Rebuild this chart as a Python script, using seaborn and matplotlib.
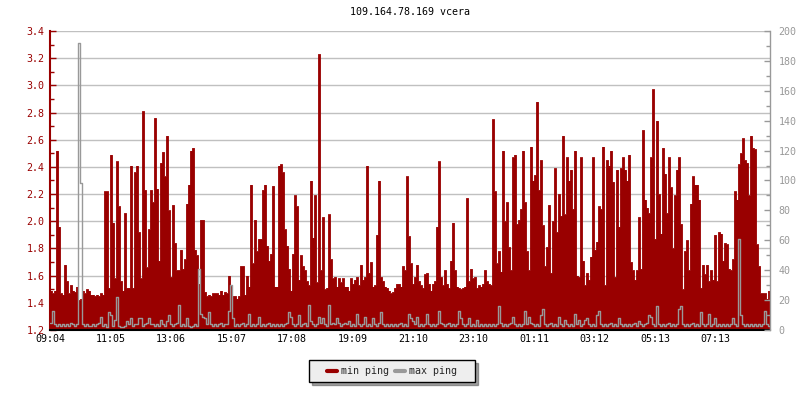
import numpy as np
import pandas as pd
import matplotlib
matplotlib.use("Agg")
import matplotlib.pyplot as plt
import seaborn as sns
from matplotlib.lines import Line2D
from matplotlib.path import Path
from matplotlib.ticker import MultipleLocator

# ping samples, one value per 4 minutes, 09:04 -> 09:04 next day
min_ping = [
    # 09:04 - 13:04
    1.49, 1.47, 1.49, 2.52, 1.96, 1.47, 1.46, 1.68, 1.56, 1.47, 1.53, 1.49, 1.48, 1.52, 1.42,
    1.43, 1.49, 1.47, 1.50, 1.49, 1.46, 1.46, 1.45, 1.46, 1.45, 1.47, 1.46, 2.22, 2.22, 1.51,
    2.49, 1.99, 1.58, 2.44, 2.11, 1.56, 1.49, 2.06, 1.51, 1.51, 2.41, 1.51, 2.36, 2.41, 1.92,
    1.58, 2.81, 2.23, 1.66, 1.94, 2.23, 2.14, 2.76, 2.24, 1.71, 2.43, 2.51, 2.33, 2.63, 2.08,
    # 13:04 - 17:04
    1.59, 2.12, 1.84, 1.64, 1.64, 1.79, 1.65, 1.72, 2.13, 2.27, 2.52, 2.54, 1.79, 1.75, 1.54,
    2.01, 2.01, 1.48, 1.45, 1.46, 1.45, 1.47, 1.47, 1.47, 1.46, 1.49, 1.46, 1.48, 1.47, 1.60,
    1.53, 1.45, 1.45, 1.43, 1.45, 1.67, 1.67, 1.46, 1.60, 1.52, 2.27, 1.69, 2.01, 1.78, 1.87,
    1.87, 2.23, 2.27, 1.82, 1.71, 1.76, 2.26, 1.52, 1.52, 2.41, 2.42, 2.36, 1.94, 1.82, 1.65,
    # 17:04 - 21:04
    1.49, 1.76, 2.19, 2.11, 1.57, 1.75, 1.67, 1.64, 1.56, 1.53, 2.30, 1.88, 2.19, 1.55, 3.23,
    1.64, 2.03, 1.50, 1.51, 2.05, 1.72, 1.58, 1.59, 1.52, 1.58, 1.55, 1.58, 1.52, 1.52, 1.49,
    1.58, 1.54, 1.57, 1.59, 1.53, 1.68, 1.57, 1.59, 2.41, 1.62, 1.70, 1.52, 1.53, 1.90, 2.30,
    1.59, 1.56, 1.52, 1.51, 1.49, 1.47, 1.48, 1.51, 1.54, 1.54, 1.52, 1.67, 1.64, 2.33, 1.89,
    # 21:04 - 01:04
    1.69, 1.54, 1.59, 1.68, 1.56, 1.53, 1.51, 1.61, 1.62, 1.54, 1.49, 1.54, 1.56, 1.96, 2.44,
    1.59, 1.53, 1.64, 1.54, 1.51, 1.71, 1.99, 1.64, 1.52, 1.51, 1.50, 1.51, 1.52, 2.17, 1.56,
    1.65, 1.58, 1.59, 1.51, 1.53, 1.52, 1.54, 1.64, 1.56, 1.54, 1.53, 2.75, 2.22, 1.69, 1.78,
    1.63, 2.52, 2.00, 2.14, 1.81, 1.64, 2.47, 2.49, 1.98, 2.01, 2.09, 2.52, 2.14, 1.78, 1.64,
    # 01:04 - 05:04
    2.55, 2.30, 2.34, 2.88, 2.23, 2.45, 1.97, 1.67, 1.81, 2.12, 1.62, 2.00, 2.39, 1.92, 2.20,
    2.04, 2.63, 2.05, 2.47, 2.30, 2.38, 2.09, 2.52, 1.60, 1.59, 2.47, 1.71, 1.53, 1.62, 1.57,
    1.74, 2.47, 1.79, 1.85, 2.11, 2.09, 2.55, 1.53, 2.45, 2.41, 2.52, 2.29, 1.59, 2.38, 1.96,
    2.39, 2.47, 2.38, 2.30, 2.49, 1.70, 1.64, 1.57, 1.64, 2.03, 1.65, 2.67, 2.16, 2.10, 2.06,
    # 05:04 - 09:04
    2.47, 2.97, 1.87, 2.74, 2.20, 1.91, 2.54, 2.35, 2.06, 2.47, 2.25, 1.80, 2.19, 2.38, 2.47,
    1.98, 1.50, 1.78, 1.86, 1.64, 2.13, 2.33, 2.27, 2.27, 2.16, 1.51, 1.68, 1.61, 1.68, 1.56,
    1.64, 1.57, 1.90, 1.56, 1.92, 1.91, 1.71, 1.84, 1.83, 1.65, 1.64, 1.72, 2.22, 2.16, 2.42,
    2.50, 2.61, 2.45, 2.43, 2.19, 2.63, 2.54, 2.53, 1.83, 1.67, 1.47, 1.47, 1.47, 1.43, 1.49,
]

max_ping = [
    5, 13, 4, 3, 4, 3, 4, 3, 4, 3, 5, 4, 3, 4, 192, 98, 4, 3, 4, 3,
    3, 4, 3, 4, 5, 9, 3, 4, 2, 12, 10, 3, 7, 22, 3, 2, 2, 3, 6, 4,
    8, 3, 4, 4, 8, 8, 3, 4, 5, 8, 4, 4, 3, 4, 3, 7, 4, 3, 6, 10,
    4, 3, 4, 5, 17, 3, 4, 3, 8, 3, 2, 3, 4, 3, 41, 11, 9, 8, 4, 12,
    4, 3, 4, 3, 4, 5, 3, 4, 4, 13, 30, 8, 3, 4, 3, 4, 5, 3, 4, 11,
    3, 4, 3, 4, 9, 3, 4, 3, 4, 5, 3, 4, 3, 4, 3, 4, 3, 4, 5, 12,
    9, 4, 3, 4, 10, 3, 4, 5, 3, 17, 6, 4, 3, 4, 9, 5, 8, 4, 3, 17,
    4, 5, 4, 8, 5, 3, 4, 5, 4, 6, 3, 4, 3, 11, 4, 3, 4, 9, 3, 4,
    3, 8, 4, 3, 5, 12, 4, 3, 4, 3, 4, 3, 4, 3, 4, 5, 3, 4, 3, 11,
    8, 6, 4, 9, 3, 4, 3, 4, 11, 4, 3, 4, 3, 4, 13, 5, 4, 3, 4, 5,
    3, 4, 3, 4, 13, 8, 4, 3, 4, 8, 3, 4, 3, 7, 3, 4, 3, 4, 3, 4,
    3, 4, 3, 4, 16, 5, 3, 4, 3, 4, 5, 9, 4, 3, 4, 3, 4, 13, 4, 9,
    5, 4, 3, 4, 3, 10, 14, 4, 3, 4, 5, 3, 4, 3, 9, 4, 3, 7, 4, 3,
    4, 3, 11, 4, 7, 3, 4, 7, 8, 4, 3, 4, 3, 10, 13, 4, 3, 4, 3, 4,
    5, 3, 4, 3, 8, 4, 3, 4, 3, 4, 3, 4, 5, 3, 6, 4, 3, 4, 5, 10,
    9, 4, 3, 16, 4, 3, 4, 3, 4, 5, 3, 4, 3, 4, 14, 16, 4, 3, 4, 3,
    4, 5, 3, 4, 3, 12, 4, 3, 4, 11, 3, 4, 8, 3, 4, 3, 4, 3, 4, 3,
    4, 8, 4, 3, 61, 10, 4, 3, 4, 3, 4, 3, 4, 3, 4, 3, 4, 13, 4, 3,
]

time_labels = ["09:04", "11:05", "13:06", "15:07", "17:08", "19:09",
               "21:10", "23:10", "01:11", "03:12", "05:13", "07:13"]

RED = "#990000"
GRAY = "#999999"
MONO = ["DejaVu Sans Mono"]
FS = 7.2

sns.set_theme(style="white")
plt.rcParams["font.family"] = MONO

n = len(min_ping)
df = pd.DataFrame({"t": np.arange(n + 1),
                   "min_ping": min_ping + [min_ping[-1]],
                   "max_ping": max_ping + [max_ping[-1]]})

fig = plt.figure(figsize=(8, 4), dpi=100)
ax = fig.add_axes([50 / 800, 70 / 400, 720 / 800, 299 / 400])

ax.fill_between(df["t"], 1.2, df["min_ping"], step="post", color=RED, lw=0, zorder=2)
sns.lineplot(data=df, x="t", y="min_ping", ax=ax, color=RED, lw=0.6,
             drawstyle="steps-post", estimator=None, zorder=2)

ax.set_xlim(0, n)
ax.set_ylim(1.2, 3.4)
ax.set_xlabel("")
ax.set_ylabel("")
ax.yaxis.set_major_locator(MultipleLocator(0.2))
ax.yaxis.set_minor_locator(MultipleLocator(0.1))
ax.set_yticklabels([f"{v:.1f}" for v in ax.get_yticks()])
ax.set_xticks(np.arange(len(time_labels)) * 30.25)
ax.set_xticklabels(time_labels)
ax.yaxis.grid(True, color="#c0c0c0", lw=1.0, zorder=0)
ax.set_axisbelow(True)
ax.tick_params(axis="y", which="both", direction="in", colors=RED, labelsize=FS,
               left=True, right=False, pad=4)
ax.tick_params(axis="y", which="major", length=4, width=1)
ax.tick_params(axis="y", which="minor", length=3, width=1)
ax.tick_params(axis="x", direction="in", colors="black", labelsize=FS,
               length=4, width=1, bottom=True, pad=3)

ax2 = ax.twinx()
sns.lineplot(data=df, x="t", y="max_ping", ax=ax2, color=GRAY, lw=1.0,
             drawstyle="steps-post", estimator=None)
ax2.set_ylim(0, 200)
ax2.set_xlim(0, n)
ax2.set_ylabel("")
ax2.yaxis.set_major_locator(MultipleLocator(20))
ax2.yaxis.set_minor_locator(MultipleLocator(10))
ax2.tick_params(axis="y", which="both", direction="in", colors=GRAY, labelsize=FS,
                right=True, left=False, pad=6)
ax2.tick_params(axis="y", which="major", length=4, width=1)
ax2.tick_params(axis="y", which="minor", length=3, width=1)

for a in (ax, ax2):
    a.spines["top"].set_visible(False)
ax.spines["left"].set_color(RED)
ax.spines["left"].set_linewidth(1.5)
ax.spines["bottom"].set_color("black")
ax.spines["bottom"].set_linewidth(1.5)
ax.spines["right"].set_visible(False)
ax2.spines["left"].set_visible(False)
ax2.spines["bottom"].set_visible(False)
ax2.spines["right"].set_color(GRAY)
ax2.spines["right"].set_linewidth(1.0)

fig.text(410 / 800, 1 - 12 / 400, "109.164.78.169 vcera", ha="center", va="center",
         fontsize=FS, color="black")


def wide_box(x0, y0, width, height, mutation_size):
    # legend frame with extra room left and right
    px = 12
    return Path([(x0 - px, y0), (x0 + width + px, y0), (x0 + width + px, y0 + height),
                 (x0 - px, y0 + height), (x0 - px, y0)], closed=True)


handles = [Line2D([], [], color=RED, lw=3), Line2D([], [], color=GRAY, lw=3)]
leg = fig.legend(handles, ["min ping", "max ping"], loc="center",
                 bbox_to_anchor=(392 / 800, 1 - 371 / 400), ncol=2,
                 fontsize=FS, frameon=True, fancybox=False, shadow=True,
                 facecolor="#eeeeee", edgecolor="black", framealpha=1,
                 handlelength=1.0, handletextpad=0.4, columnspacing=0.6,
                 borderpad=0.6)
leg.get_frame().set_linewidth(1.0)
leg.get_frame().set_boxstyle(wide_box)

fig.savefig("out.png", dpi=100)
